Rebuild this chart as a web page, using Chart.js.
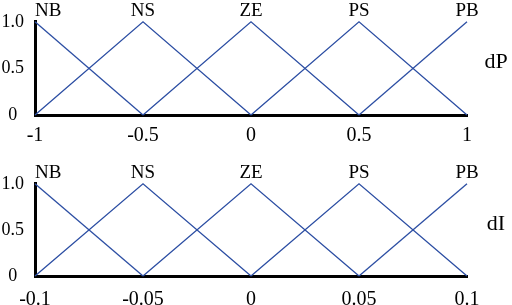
<!DOCTYPE html>
<html>
<head>
<meta charset="utf-8">
<script src="https://cdn.jsdelivr.net/npm/chart.js@4"></script>
<style>
  html, body { margin: 0; padding: 0; background: #fff; overflow: hidden; }
  body { width: 512px; height: 305px; position: relative; }
  canvas { position: absolute; left: 0; }
</style>
</head>
<body>
<canvas id="cP" width="512" height="152" style="top:0"></canvas>
<canvas id="cI" width="512" height="152" style="top:162px"></canvas>
<script>
// ── Données ───────────────────────────────────────────────
const SET_NAMES = ['NB', 'NS', 'ZE', 'PS', 'PB'];

// degrés d'appartenance (identiques pour les deux panneaux)
const NB_Y = [1, 0];
const NS_Y = [0, 1, 0];
const ZE_Y = [0, 1, 0];
const PS_Y = [0, 1, 0];
const PB_Y = [0, 1];

// dP
const DP_NB_X = [-1, -0.5];
const DP_NS_X = [-1, -0.5, 0];
const DP_ZE_X = [-0.5, 0, 0.5];
const DP_PS_X = [0, 0.5, 1];
const DP_PB_X = [0.5, 1];
const DP_TICKS = [-1, -0.5, 0, 0.5, 1];
const DP_TICK_LABELS = ['-1', '-0.5', '0', '0.5', '1'];

// dI
const DI_NB_X = [-0.1, -0.05];
const DI_NS_X = [-0.1, -0.05, 0];
const DI_ZE_X = [-0.05, 0, 0.05];
const DI_PS_X = [0, 0.05, 0.1];
const DI_PB_X = [0.05, 0.1];
const DI_TICKS = [-0.1, -0.05, 0, 0.05, 0.1];
const DI_TICK_LABELS = ['-0.1', '-0.05', '0', '0.05', '0.1'];

const Y_TICKS = [0, 0.5, 1];
const Y_TICK_LABELS = ['0', '0.5', '1.0'];

// ── Style ─────────────────────────────────────────────────
const SERIF = '"Liberation Serif", "Times New Roman", serif';
const LINE = '#2c4ea3';

const pts = (xs, ys) => xs.map((x, i) => ({ x, y: ys[i] }));

// Plugin : étiquettes NB..PB au-dessus des sommets + nom de la variable
const labelPlugin = {
  id: 'mfLabels',
  afterDraw(chart) {
    const { ctx, scales, chartArea } = chart;
    const opts = chart.options.plugins.mfLabels;
    ctx.save();
    ctx.fillStyle = '#000';
    ctx.font = '19px ' + SERIF;
    ctx.textAlign = 'center';
    ctx.textBaseline = 'alphabetic';
    chart.data.datasets.forEach(ds => {
      const peak = ds.data.find(p => p.y === 1);
      const w = ctx.measureText(ds.label).width;
      let px = scales.x.getPixelForValue(peak.x);
      px = Math.max(px, chartArea.left + w / 2);
      const py = scales.y.getPixelForValue(1) - 6;
      ctx.fillText(ds.label, px, py);
    });
    ctx.font = '22px ' + SERIF;
    ctx.fillText(opts.name, chartArea.right + 29, scales.y.getPixelForValue(0.5));
    ctx.restore();
  },
};

function makeChart(id, name, xs, ticks, tickLabels, axisHeight, tickPad) {
  const ys = [NB_Y, NS_Y, ZE_Y, PS_Y, PB_Y];
  return new Chart(document.getElementById(id), {
    type: 'line',
    plugins: [labelPlugin],
    data: {
      datasets: SET_NAMES.map((n, i) => ({
        label: n,
        data: pts(xs[i], ys[i]),
        borderColor: LINE,
        borderWidth: 1.3,
        pointRadius: 0,
        tension: 0,
        fill: false,
        clip: 3,
      })),
    },
    options: {
      responsive: false,
      animation: false,
      layout: { padding: { top: 19, right: 45, left: 0, bottom: 0 } },
      plugins: {
        legend: { display: false },
        tooltip: { enabled: false },
        mfLabels: { name },
      },
      scales: {
        x: {
          type: 'linear',
          min: ticks[0],
          max: ticks[ticks.length - 1],
          afterBuildTicks: s => { s.ticks = ticks.map(v => ({ value: v })); },
          afterFit: s => { s.height = axisHeight; },
          grid: { display: false, drawTicks: false },
          border: { display: true, color: '#000', width: 3 },
          ticks: {
            color: '#000',
            font: { family: SERIF, size: 20 },
            padding: tickPad,
            maxRotation: 0,
            autoSkip: false,
            callback: (v, i) => tickLabels[i],
          },
        },
        y: {
          type: 'linear',
          min: 0,
          max: 1,
          afterBuildTicks: s => { s.ticks = Y_TICKS.map(v => ({ value: v })); },
          afterFit: s => { s.width = 35; },
          grid: { display: false, drawTicks: false },
          border: { display: true, color: '#000', width: 3 },
          ticks: {
            color: '#000',
            font: { family: SERIF, size: 18 },
            padding: 11,
            crossAlign: 'center',
            callback: (v, i) => Y_TICK_LABELS[i],
          },
        },
      },
    },
  });
}

makeChart('cP', 'dP',
  [DP_NB_X, DP_NS_X, DP_ZE_X, DP_PS_X, DP_PB_X],
  DP_TICKS, DP_TICK_LABELS, 37, 9);
makeChart('cI', 'dI',
  [DI_NB_X, DI_NS_X, DI_ZE_X, DI_PS_X, DI_PB_X],
  DI_TICKS, DI_TICK_LABELS, 38, 12);
</script>
</body>
</html>
